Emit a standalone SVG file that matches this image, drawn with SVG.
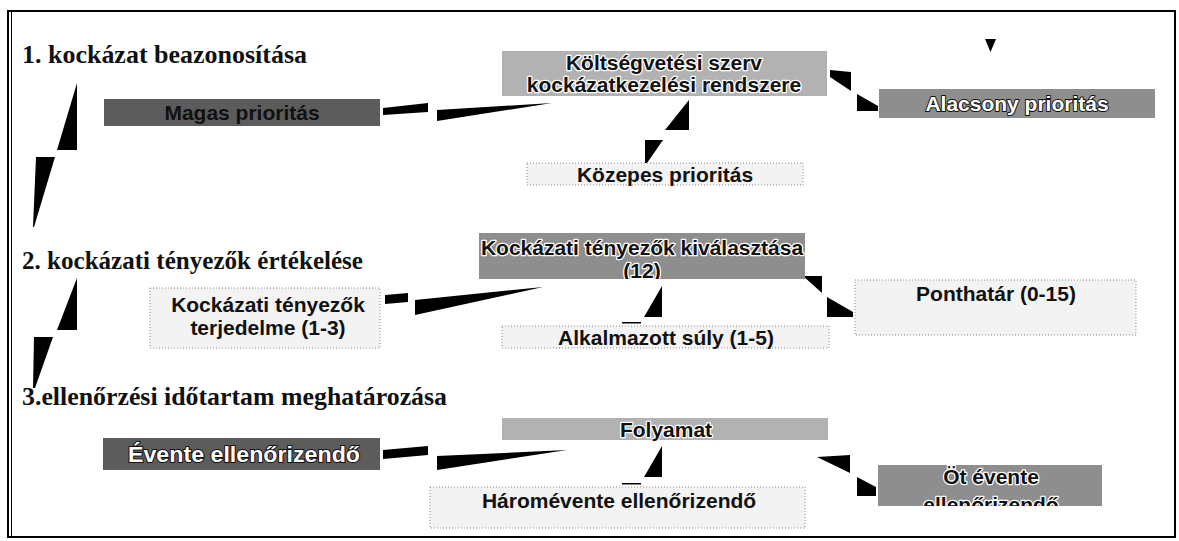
<svg xmlns="http://www.w3.org/2000/svg" width="1179" height="541" viewBox="0 0 1179 541">
<style>
.h{font-family:"Liberation Serif","Times New Roman",serif;font-weight:bold;font-size:25px;fill:#111}
.t{font-family:"Liberation Sans",Arial,sans-serif;font-weight:bold;font-size:21px;text-anchor:middle;fill:#111}
.halo{stroke:#fff;stroke-width:2.5px;paint-order:stroke;stroke-linejoin:round}
.inv{fill:#fff;stroke:#111;stroke-width:2px;paint-order:stroke;stroke-linejoin:round}
.dark{fill:#5c5c5c}
.mid{fill:#8e8e8e}
.light{fill:#b2b2b2}
.pale{fill:#f3f3f3;stroke:#8a8a8a;stroke-width:1;stroke-dasharray:1 2}
.c{fill:#000}
</style>
<defs>
<clipPath id="clipOt"><rect x="878" y="465" width="224" height="41"/></clipPath>
<clipPath id="clipSel"><rect x="479" y="233" width="326" height="46"/></clipPath>
</defs>
<rect x="0" y="0" width="1179" height="541" fill="#fff"/>
<g id="frame" fill="none" stroke="#000">
<rect x="8" y="11" width="1167" height="526" stroke-width="2"/>
<line x1="11.5" y1="11" x2="11.5" y2="537" stroke-width="1"/>
</g>
<g id="headings">
<text class="h" x="22" y="63" textLength="285" lengthAdjust="spacingAndGlyphs">1. kockázat beazonosítása</text>
<text class="h" x="22" y="269" textLength="341" lengthAdjust="spacingAndGlyphs">2. kockázati tényezők értékelése</text>
<text class="h" x="22" y="405" textLength="425" lengthAdjust="spacingAndGlyphs">3.ellenőrzési időtartam meghatározása</text>
</g>
<g id="connectors">
<polygon class="c" points="77,83 77,150 57,150"/>
<polygon class="c" points="36,157 55,157 34,227 33,227"/>
<polygon class="c" points="77,278 77,330 57,330"/>
<polygon class="c" points="34,337 53,337 35,388 33,388"/>
<polygon class="c" points="383,108 428,103 428,112 383,115"/>
<polygon class="c" points="437,110 552,103 437,121"/>
<polygon class="c" points="689,100 689,130 665,130"/>
<polygon class="c" points="645,140 663,140 647,163 645,163"/>
<polygon class="c" points="830,70 851,72 851,91 830,77"/>
<polygon class="c" points="857,94 878,106 878,111 857,111"/>
<polygon class="c" points="985,39 996,39 990.5,52"/>
<polygon class="c" points="385,295 408,293 408,302 385,304"/>
<polygon class="c" points="415,300 543,287 415,315"/>
<polygon class="c" points="662,286 662,317 644,317"/>
<rect class="c" x="622" y="322" width="19" height="1.5"/>
<polygon class="c" points="803,276 822,276 822,293"/>
<polygon class="c" points="827,297 853,312 853,317 827,317"/>
<polygon class="c" points="383,450 428,446 428,455 383,459"/>
<polygon class="c" points="437,456 567,450 437,470"/>
<polygon class="c" points="662,446 662,477 644,477"/>
<rect class="c" x="622" y="483" width="19" height="1.5"/>
<polygon class="c" points="817,457 850,455 850,473"/>
<polygon class="c" points="857,477 876,487 876,496 857,496"/>
</g>
<g id="n-koltseg">
<rect class="light" x="502" y="51" width="325" height="45"/>
<text class="t halo" x="664" y="70">Költségvetési szerv</text>
<text class="t halo" x="664" y="92">kockázatkezelési rendszere</text>
</g>
<g id="n-magas">
<rect class="dark" x="104" y="99" width="276" height="27"/>
<text class="t" x="242" y="120">Magas prioritás</text>
</g>
<g id="n-alacsony">
<rect class="mid" x="879" y="89" width="276" height="29"/>
<text class="t inv" x="1017" y="111">Alacsony prioritás</text>
</g>
<g id="n-kozepes">
<rect class="pale" x="527" y="163" width="276" height="22"/>
<text class="t" x="665" y="182">Közepes prioritás</text>
</g>
<g id="n-kivalasztas">
<rect class="mid" x="479" y="233" width="326" height="46" fill="#9c9c9c"/>
<g clip-path="url(#clipSel)">
<text class="t halo" x="642" y="255">Kockázati tényezők kiválasztása</text>
<text class="t halo" x="642" y="278">(12)</text>
</g>
</g>
<g id="n-terjedelme">
<rect class="pale" x="150" y="288" width="230" height="60"/>
<text class="t" x="268" y="312">Kockázati tényezők</text>
<text class="t" x="268" y="335">terjedelme (1-3)</text>
</g>
<g id="n-ponthatar">
<rect class="pale" x="855" y="280" width="281" height="55"/>
<text class="t" x="996" y="301">Ponthatár (0-15)</text>
</g>
<g id="n-suly">
<rect class="pale" x="502" y="326" width="327" height="22"/>
<text class="t" x="666" y="345">Alkalmazott súly (1-5)</text>
</g>
<g id="n-folyamat">
<rect class="light" x="502" y="418" width="326" height="22" fill="#a9a9a9"/>
<text class="t halo" x="666" y="437">Folyamat</text>
</g>
<g id="n-evente">
<rect class="dark" x="103" y="438" width="277" height="32"/>
<text class="t inv" x="244" y="462" style="font-size:22px" textLength="232" lengthAdjust="spacingAndGlyphs">Évente ellenőrizendő</text>
</g>
<g id="n-harom">
<rect class="pale" x="430" y="487" width="375" height="41"/>
<text class="t" x="619" y="508">Háromévente ellenőrizendő</text>
</g>
<g id="n-ot">
<rect class="mid" x="878" y="465" width="224" height="41"/>
<g clip-path="url(#clipOt)">
<text class="t halo" x="991" y="484">Öt évente</text>
<text class="t halo" x="991" y="512">ellenőrizendő</text>
</g>
</g>
</svg>
